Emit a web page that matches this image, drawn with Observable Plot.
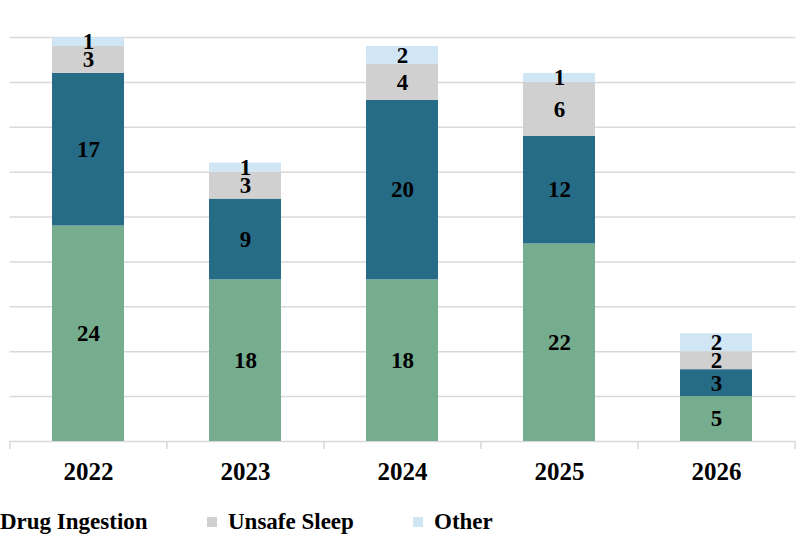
<!DOCTYPE html>
<html>
<head>
<meta charset="utf-8">
<script src="https://cdn.jsdelivr.net/npm/d3@7"></script>
<script src="https://cdn.jsdelivr.net/npm/@observablehq/plot@0.6"></script>
<style>
html, body { margin: 0; padding: 0; background: #fff; overflow: hidden; width: 806px; height: 540px; }
#wrap { position: relative; width: 806px; height: 540px; overflow: hidden; }
#chart { position: absolute; left: 0; top: 0; }
#legend { position: absolute; left: 0; top: 490px; width: 806px; height: 50px;
  font-family: "Liberation Serif", serif; font-weight: bold; font-size: 23px; color: #000; }
.item { position: absolute; top: 19px; height: 26px; display: flex; align-items: center; white-space: nowrap; }
.sw { width: 10px; height: 10px; margin-right: 11px; flex: none; }
</style>
</head>
<body>
<div id="wrap">
  <div id="chart"></div>
  <div id="legend"></div>
</div>
<script>
// ---- data ----
const years = ["2022", "2023", "2024", "2025", "2026"];
const seriesNames = ["Series 1", "Drug Ingestion", "Unsafe Sleep", "Other"];
const seriesColors = ["#76ad8e", "#276c87", "#d0d0d0", "#d0e6f5"];
const series1Values = [24, 18, 18, 22, 5];
const drugValues = [17, 9, 20, 12, 3];
const sleepValues = [3, 3, 4, 6, 2];
const otherValues = [1, 1, 2, 1, 2];
const gridTicks = [5, 10, 15, 20, 25, 30, 35, 40, 45];
// legend items visible in the picture (first item lies off-canvas)
const legendItems = ["Drug Ingestion", "Unsafe Sleep", "Other"];

// ---- table ----
const valueLists = [series1Values, drugValues, sleepValues, otherValues];
const rows = [];
years.forEach((yr, i) => {
  seriesNames.forEach((s, j) => rows.push({year: yr, series: s, value: valueLists[j][i]}));
});

const W = 806, H = 490, mL = 9.5, mR = 10.5;
const step = (W - mL - mR) / years.length;

const chart = Plot.plot({
  width: W, height: H,
  marginTop: 37, marginBottom: 49, marginLeft: mL, marginRight: mR,
  style: {fontFamily: "'Liberation Serif', serif", background: "#fff", overflow: "visible"},
  x: {domain: years, paddingInner: 0.54, paddingOuter: 0.27, axis: null},
  y: {domain: [0, 45], axis: null},
  color: {domain: seriesNames, range: seriesColors},
  marks: [
    Plot.ruleY(gridTicks, {stroke: "#d9d9d9", strokeWidth: 1.5}),
    Plot.ruleY([0], {stroke: "#d9d9d9", strokeWidth: 1.5}),
    Plot.ruleX(years, {x: d => d, y1: 0, y2: 0, dx: -step / 2, insetBottom: -8, stroke: "#d9d9d9", strokeWidth: 1.5}),
    Plot.ruleX(years.slice(-1), {x: d => d, y1: 0, y2: 0, dx: step / 2, insetBottom: -8, stroke: "#d9d9d9", strokeWidth: 1.5}),
    Plot.barY(rows, Plot.stackY({x: "year", y: "value", fill: "series", order: seriesNames})),
    Plot.text(rows, Plot.stackY({x: "year", y: "value", z: "series", order: seriesNames, text: "value",
      fill: "#000", fontWeight: "bold", fontSize: 23})),
    Plot.axisX({tickSize: 0, tickPadding: 21, fontSize: 25, fontWeight: "bold", fill: "#000", label: null})
  ]
});
document.getElementById("chart").appendChild(chart);

// ---- legend ----
const legendLeft = [-21, 207, 413];
const legend = document.getElementById("legend");
legendItems.forEach((name, k) => {
  const it = document.createElement("div");
  it.className = "item";
  it.style.left = legendLeft[k] + "px";
  const sw = document.createElement("span");
  sw.className = "sw";
  sw.style.background = seriesColors[seriesNames.indexOf(name)];
  const tx = document.createElement("span");
  tx.textContent = name;
  it.appendChild(sw); it.appendChild(tx);
  legend.appendChild(it);
});
</script>
</body>
</html>
